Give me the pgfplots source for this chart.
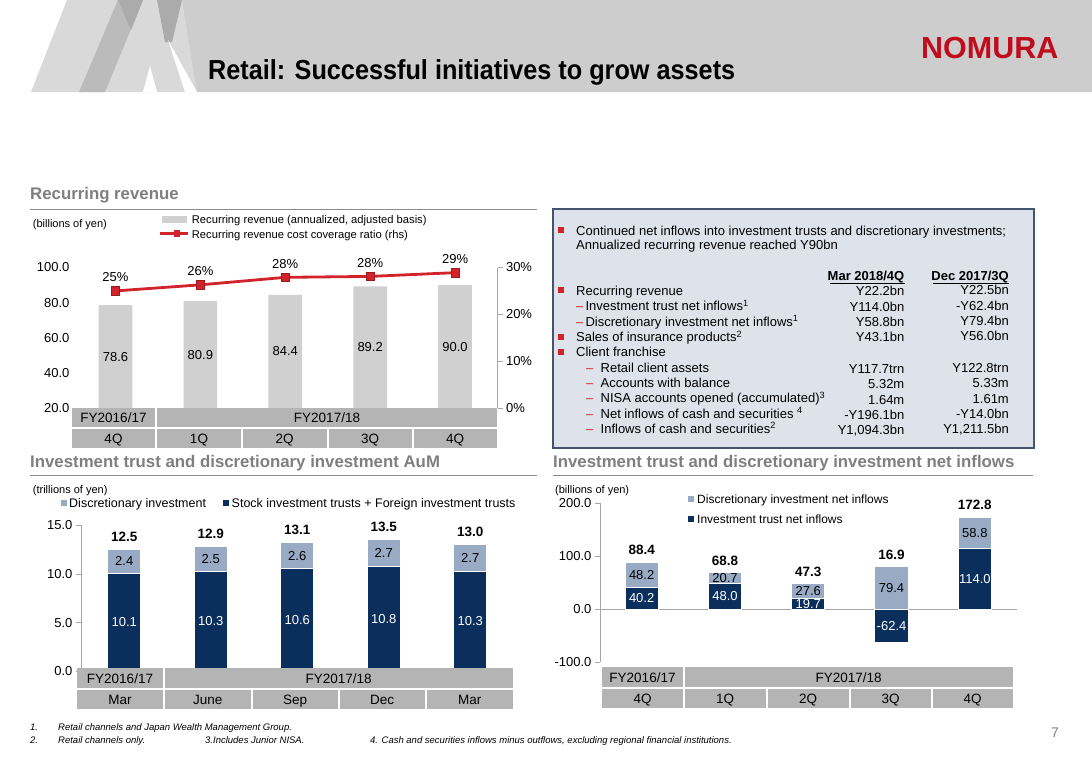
\documentclass[border=0pt]{standalone}
\usepackage{pgfplots}
\pgfplotsset{compat=1.18}
\usepackage{fontspec}
\setmainfont{Liberation Sans}
\definecolor{hdr}{HTML}{CDCDCD}
\definecolor{hdrl}{HTML}{D9D9D9}
\definecolor{hdrm}{HTML}{BBBBBB}
\definecolor{hdrd}{HTML}{ABABAB}
\definecolor{nomred}{HTML}{C00D1E}
\definecolor{nred}{HTML}{D2222A}
\definecolor{barg}{HTML}{D0D0D0}
\definecolor{boxg}{HTML}{B4B4B4}
\definecolor{navy}{HTML}{0B2F5C}
\definecolor{lblue}{HTML}{98AAC4}
\definecolor{secgray}{HTML}{7F7F7F}
\definecolor{secline}{HTML}{8C8C8C}
\definecolor{panel}{HTML}{DDE2EB}
\definecolor{panelb}{HTML}{44546E}
\definecolor{axg}{HTML}{A6A6A6}
\newcommand{\fs}[1]{\fontsize{#1}{#1}\selectfont}
\newcommand{\rdash}{{\color{nred}–}}
\pgfplotstableread{
x rev ratio
0 78.6 25.0
1 80.9 26.3
2 84.4 27.9
3 89.2 28.1
4 90.0 28.9
}\revtable
\pgfplotstableread{
x stock disc total
0 10.1 2.4 12.5
1 10.3 2.5 12.8
2 10.6 2.6 13.2
3 10.8 2.7 13.5
4 10.3 2.7 13.0
}\aumtable
\pgfplotstableread{
x trust disc top
0 40.2 48.2 88.4
1 48.0 20.7 68.7
2 19.7 27.6 47.3
3 -62.4 79.4 79.4
4 114.0 58.8 172.8
}\flowtable
\begin{document}
\begin{tikzpicture}[x=1pt,y=1pt]
\useasboundingbox (0,0) rectangle (1092,-756);
\fill[white] (0,0) rectangle (1092,-756);
% ---------- header ----------
\fill[hdrl] (31,-92) -- (67,0) -- (190,0) -- (197,-92) -- cycle;
\fill[hdrm] (79,-92) -- (118,0) -- (143,0) -- (105,-92) -- cycle;
\fill[hdrd] (118,0) -- (143,0) -- (131,-30) -- cycle;
\fill[hdrd] (157,0) -- (182,0) -- (172,-42) -- (165,-42) -- cycle;
\fill[white] (143,-92) -- (157,-92) -- (150,-66) -- cycle;
\fill[white] (185,-92) -- (197,-92) -- (168,-40) -- cycle;
\fill[hdr] (197,-92) -- (182,0) -- (1092,0) -- (1092,-92) -- cycle;
\node[anchor=base west, inner sep=0] at (208,-79) {\scalebox{0.918}[1]{\fs{27.5}\bfseries Retail: Successful initiatives to grow assets}};
\node[anchor=base west, inner sep=0, text=nomred] at (921,-58) {\fs{30.5}\bfseries NOMURA};
% ---------- section titles ----------
\node[anchor=base west, inner sep=0, text=secgray] at (30,-199) {\fs{16.8}\bfseries Recurring revenue};
\draw[secline, line width=1.5pt] (30,-209.3) -- (537,-209.3);
\node[anchor=base west, inner sep=0, text=secgray] at (30,-467) {\fs{16.8}\bfseries Investment trust and discretionary investment AuM};
\draw[secline, line width=1.5pt] (30,-475.5) -- (537,-475.5);
\node[anchor=base west, inner sep=0, text=secgray] at (553,-467) {\fs{16.8}\bfseries Investment trust and discretionary investment net inflows};
\draw[secline, line width=1.5pt] (553,-475.5) -- (1033,-475.5);
% ---------- chart 1 : recurring revenue ----------
\node[anchor=base west, inner sep=0] at (32.7,-227) {\fs{11}(billions of yen)};
\fill[barg] (161.7,-216.2) rectangle (186.7,-223.2);
\node[anchor=base west, inner sep=0] at (191.7,-223) {\fs{11.2}Recurring revenue (annualized, adjusted basis)};
\draw[nred, line width=2.5pt] (160,-233.5) -- (188,-233.5);
\fill[nred] (173.5,-230.3) rectangle (179.9,-236.7);
\node[anchor=base west, inner sep=0] at (191.7,-238.3) {\fs{11.2}Recurring revenue cost coverage ratio (rhs)};
\begin{axis}[at={(73pt,-408pt)}, anchor=south west, scale only axis,
  width=424.5pt, height=140.5pt, xmin=-0.5, xmax=4.5, ymin=20, ymax=100,
  axis x line=none, axis y line*=left, y axis line style={draw=none},
  ytick={20,40,60,80,100}, yticklabels={20.0,40.0,60.0,80.0,100.0},
  major tick length=0pt, yticklabel style={font=\fs{13}},
  ybar, bar width=33.7pt]
\addplot[fill=barg, draw=none] table[x=x, y=rev] {\revtable};
\node[font=\fs{13}] at (axis cs:0,49.3) {78.6};
\node[font=\fs{13}] at (axis cs:1,50.45) {80.9};
\node[font=\fs{13}] at (axis cs:2,52.2) {84.4};
\node[font=\fs{13}] at (axis cs:3,54.6) {89.2};
\node[font=\fs{13}] at (axis cs:4,55.0) {90.0};
\end{axis}
\begin{axis}[at={(73pt,-408pt)}, anchor=south west, scale only axis,
  width=424.5pt, height=140.5pt, xmin=-0.5, xmax=4.5, ymin=0, ymax=30,
  axis x line=none, axis y line*=right, y axis line style={draw=axg, line width=0.8pt},
  ytick={0,10,20,30}, yticklabels={0\%,10\%,20\%,30\%},
  tick align=outside, major tick length=5pt, ytick style={draw=axg, line width=0.8pt},
  yticklabel style={font=\fs{13}}, clip=false]
\addplot[nred, line width=2.8pt, mark=square*, mark size=4.2pt,
  mark options={fill=nred, draw=nred!75!black, line width=0.6pt},
  nodes near coords={\pgfmathprintnumber[fixed, precision=0, assume math mode=true]{\pgfplotspointmeta}\%},
  every node near coord/.append style={font=\fs{13}, text=black, anchor=base, yshift=9pt}]
  table[x=x, y=ratio] {\revtable};
\end{axis}
% category boxes chart 1
\fill[boxg] (72,-408) rectangle (155,-427);
\fill[boxg] (157,-408) rectangle (497,-427);
\fill[boxg] (72,-429) rectangle (155,-447.5);
\fill[boxg] (157,-429) rectangle (241,-447.5);
\fill[boxg] (243,-429) rectangle (326.5,-447.5);
\fill[boxg] (328.5,-429) rectangle (411.5,-447.5);
\fill[boxg] (413.5,-429) rectangle (497,-447.5);
\node[anchor=base, font=\fs{13.5}] at (113.5,-422.5) {FY2016/17};
\node[anchor=base, font=\fs{13.5}] at (327,-422.5) {FY2017/18};
\node[anchor=base, font=\fs{13.5}] at (113.5,-443) {4Q};
\node[anchor=base, font=\fs{13.5}] at (199,-443) {1Q};
\node[anchor=base, font=\fs{13.5}] at (284.7,-443) {2Q};
\node[anchor=base, font=\fs{13.5}] at (370,-443) {3Q};
\node[anchor=base, font=\fs{13.5}] at (455.2,-443) {4Q};
% ---------- text panel ----------
\filldraw[fill=panel, draw=panelb, line width=2pt] (553,-209) rectangle (1034,-448);
\fill[nred] (557.8,-227) rectangle (563.8,-233);
\node[anchor=base west, inner sep=0] at (576,-235) {\fs{13}Continued net inflows into investment trusts and discretionary investments;};
\node[anchor=base west, inner sep=0] at (576,-249.5) {\fs{13}Annualized recurring revenue reached Y90bn};
\node[anchor=base east, inner sep=0] at (904.5,-280) {\fs{13}\bfseries Mar 2018/4Q};
\draw[black, line width=1pt] (830,-283) -- (904.5,-283);
\node[anchor=base east, inner sep=0] at (1009,-280) {\fs{13}\bfseries Dec 2017/3Q};
\draw[black, line width=1pt] (933,-283) -- (1009,-283);
\fill[nred] (557.8,-287) rectangle (563.8,-293);
\fill[nred] (557.8,-333.7) rectangle (563.8,-339.7);
\fill[nred] (557.8,-348.7) rectangle (563.8,-354.7);
\node[anchor=base west, inner sep=0] at (576,-295) {\fs{13}Recurring revenue};
\node[anchor=base west, inner sep=0] at (576,-310.7) {\fs{13}\rdash\,Investment trust net inflows\textsuperscript{1}};
\node[anchor=base west, inner sep=0] at (576,-326) {\fs{13}\rdash\,Discretionary investment net inflows\textsuperscript{1}};
\node[anchor=base west, inner sep=0] at (576,-341.7) {\fs{13}Sales of insurance products\textsuperscript{2}};
\node[anchor=base west, inner sep=0] at (576,-356.7) {\fs{13}Client franchise};
\node[anchor=base west, inner sep=0] at (586,-372) {\fs{13}\rdash\ \ Retail client assets};
\node[anchor=base west, inner sep=0] at (586,-387.3) {\fs{13}\rdash\ \ Accounts with balance};
\node[anchor=base west, inner sep=0] at (586,-402.7) {\fs{13}\rdash\ \ NISA accounts opened (accumulated)\textsuperscript{3}};
\node[anchor=base west, inner sep=0] at (586,-418) {\fs{13}\rdash\ \ Net inflows of cash and securities \textsuperscript{4}};
\node[anchor=base west, inner sep=0] at (586,-433.3) {\fs{13}\rdash\ \ Inflows of cash and securities\textsuperscript{2}};
\foreach \y/\a/\b in {295/Y22.2bn/Y22.5bn, 311.2/Y114.0bn/-Y62.4bn, 326.5/Y58.8bn/Y79.4bn, 341.7/Y43.1bn/Y56.0bn, 373/Y117.7trn/Y122.8trn, 388.3/5.32m/5.33m, 404/1.64m/1.61m, 419/-Y196.1bn/-Y14.0bn, 434.3/{Y1,094.3bn}/{Y1,211.5bn}}{
  \node[anchor=base east, inner sep=0] at (904.5,-\y) {\fs{13}\a};
  \node[anchor=base east, inner sep=0] at (1009,-\y+1) {\fs{13}\b};
}
% ---------- chart 2 : AuM ----------
\node[anchor=base west, inner sep=0] at (32.7,-493.3) {\fs{11}(trillions of yen)};
\fill[lblue] (61.2,-499.5) rectangle (67.2,-505.5);
\node[anchor=base west, inner sep=0] at (69,-507.3) {\fs{12.5}Discretionary investment};
\fill[navy] (222.5,-499.5) rectangle (228.5,-505.5);
\node[anchor=base west, inner sep=0] at (231.5,-507.3) {\fs{12.5}Stock investment trusts + Foreign investment trusts};
\begin{axis}[at={(81pt,-671.5pt)}, anchor=south west, scale only axis,
  width=432.5pt, height=146.2pt, xmin=-0.5, xmax=4.5, ymin=0, ymax=15,
  axis x line=none, axis y line*=left, y axis line style={draw=axg, line width=0.8pt},
  ytick={0,5,10,15}, yticklabels={0.0,5.0,10.0,15.0},
  tick align=outside, major tick length=5pt, ytick style={draw=axg, line width=0.8pt},
  yticklabel style={font=\fs{13}},
  ybar, bar width=33.3pt, bar shift=0pt, clip=false]
\addplot[fill=lblue, draw=white, line width=0.9pt] table[x=x, y=total] {\aumtable};
\addplot[fill=navy, draw=white, line width=0.9pt] table[x=x, y=stock] {\aumtable};
\foreach \i/\v/\m in {0/10.1/5.05, 1/10.3/5.15, 2/10.6/5.3, 3/10.8/5.4, 4/10.3/5.15}{
  \edef\temp{\noexpand\node[font=\noexpand\fs{13}, text=white] at (axis cs:\i,\m) {\v};}\temp
}
\foreach \i/\v/\m in {0/2.4/11.3, 1/2.5/11.55, 2/2.6/11.9, 3/2.7/12.15, 4/2.7/11.65}{
  \edef\temp{\noexpand\node[font=\noexpand\fs{13}] at (axis cs:\i,\m) {\v};}\temp
}
\foreach \i/\v/\t in {0/12.5/12.5, 1/12.9/12.8, 2/13.1/13.2, 3/13.5/13.5, 4/13.0/13.0}{
  \edef\temp{\noexpand\node[font=\noexpand\fs{13.5}\noexpand\bfseries, anchor=base] at (axis cs:\i,\t) [yshift=8pt] {\v};}\temp
}
\end{axis}
\fill[boxg] (77,-668) rectangle (163,-688);
\fill[boxg] (164.5,-668) rectangle (513,-688);
\fill[boxg] (77,-690) rectangle (163,-708.5);
\fill[boxg] (164.5,-690) rectangle (251,-708.5);
\fill[boxg] (252.5,-690) rectangle (338,-708.5);
\fill[boxg] (339.5,-690) rectangle (425,-708.5);
\fill[boxg] (426.5,-690) rectangle (513,-708.5);
\node[anchor=base, font=\fs{13.5}] at (120,-683) {FY2016/17};
\node[anchor=base, font=\fs{13.5}] at (338.7,-683) {FY2017/18};
\node[anchor=base, font=\fs{13.5}] at (120,-704) {Mar};
\node[anchor=base, font=\fs{13.5}] at (207.7,-704) {June};
\node[anchor=base, font=\fs{13.5}] at (295.2,-704) {Sep};
\node[anchor=base, font=\fs{13.5}] at (382.2,-704) {Dec};
\node[anchor=base, font=\fs{13.5}] at (469.7,-704) {Mar};
% ---------- chart 3 : net inflows ----------
\node[anchor=base west, inner sep=0] at (555,-493.3) {\fs{11}(billions of yen)};
\fill[lblue] (688,-496.3) rectangle (694,-502.3);
\node[anchor=base west, inner sep=0] at (697,-503.3) {\fs{12}Discretionary investment net inflows};
\fill[navy] (688,-516) rectangle (694,-522);
\node[anchor=base west, inner sep=0] at (697,-523) {\fs{12}Investment trust net inflows};
\begin{axis}[at={(600pt,-662pt)}, anchor=south west, scale only axis,
  width=416.5pt, height=159pt, xmin=-0.5, xmax=4.5, ymin=-100, ymax=200,
  axis x line=none, axis y line*=left, y axis line style={draw=axg, line width=0.8pt},
  ytick={-100,0,100,200}, yticklabels={-100.0,0.0,100.0,200.0},
  tick align=outside, major tick length=5pt, ytick style={draw=axg, line width=0.8pt},
  yticklabel style={font=\fs{13}},
  extra y ticks={0}, extra y tick labels={},
  extra y tick style={grid=major, major grid style={draw=axg, line width=0.9pt}, major tick length=0pt},
  ybar, bar width=33.3pt, bar shift=0pt, clip=false]
\addplot[fill=lblue, draw=white, line width=0.9pt] table[x=x, y=top] {\flowtable};
\addplot[fill=navy, draw=white, line width=0.9pt] table[x=x, y=trust] {\flowtable};
\foreach \i/\v/\m in {0/40.2/20.1, 1/48.0/24.0, 2/19.7/9.85, 3/-62.4/-31.2, 4/114.0/57.0}{
  \edef\temp{\noexpand\node[font=\noexpand\fs{13}, text=white] at (axis cs:\i,\m) {\v};}\temp
}
\foreach \i/\v/\m in {0/48.2/64.3, 1/20.7/58.35, 2/27.6/33.5, 3/79.4/39.7, 4/58.8/143.4}{
  \edef\temp{\noexpand\node[font=\noexpand\fs{13}] at (axis cs:\i,\m) {\v};}\temp
}
\foreach \i/\v/\t in {0/88.4/88.4, 1/68.8/68.7, 2/47.3/47.3, 3/16.9/79.4, 4/172.8/172.8}{
  \edef\temp{\noexpand\node[font=\noexpand\fs{13.5}\noexpand\bfseries, anchor=base] at (axis cs:\i,\t) [yshift=7.5pt] {\v};}\temp
}
\end{axis}
\fill[boxg] (602,-667) rectangle (683,-687);
\fill[boxg] (684.5,-667) rectangle (1013,-687);
\fill[boxg] (602,-689) rectangle (683,-707.5);
\fill[boxg] (684.5,-689) rectangle (766,-707.5);
\fill[boxg] (767.5,-689) rectangle (849,-707.5);
\fill[boxg] (850.5,-689) rectangle (931,-707.5);
\fill[boxg] (932.5,-689) rectangle (1013,-707.5);
\node[anchor=base, font=\fs{13.5}] at (642.5,-682) {FY2016/17};
\node[anchor=base, font=\fs{13.5}] at (848.7,-682) {FY2017/18};
\node[anchor=base, font=\fs{13.5}] at (642.5,-703) {4Q};
\node[anchor=base, font=\fs{13.5}] at (725.2,-703) {1Q};
\node[anchor=base, font=\fs{13.5}] at (808.2,-703) {2Q};
\node[anchor=base, font=\fs{13.5}] at (890.7,-703) {3Q};
\node[anchor=base, font=\fs{13.5}] at (972.7,-703) {4Q};
% ---------- footnotes ----------
\node[anchor=base west, inner sep=0] at (30,-730) {\fs{9.5}\itshape 1.};
\node[anchor=base west, inner sep=0] at (58,-730) {\fs{9.5}\itshape Retail channels and Japan Wealth Management Group.};
\node[anchor=base west, inner sep=0] at (30,-743) {\fs{9.5}\itshape 2.};
\node[anchor=base west, inner sep=0] at (58,-743) {\fs{9.5}\itshape Retail channels only.};
\node[anchor=base west, inner sep=0] at (205,-743) {\fs{9.5}\itshape 3.Includes Junior NISA.};
\node[anchor=base west, inner sep=0] at (370,-743) {\fs{9.5}\itshape 4. Cash and securities inflows minus outflows, excluding regional financial institutions.};
\node[anchor=base east, inner sep=0, text=secgray] at (1059,-737) {\fs{14}7};
\end{tikzpicture}
\end{document}
